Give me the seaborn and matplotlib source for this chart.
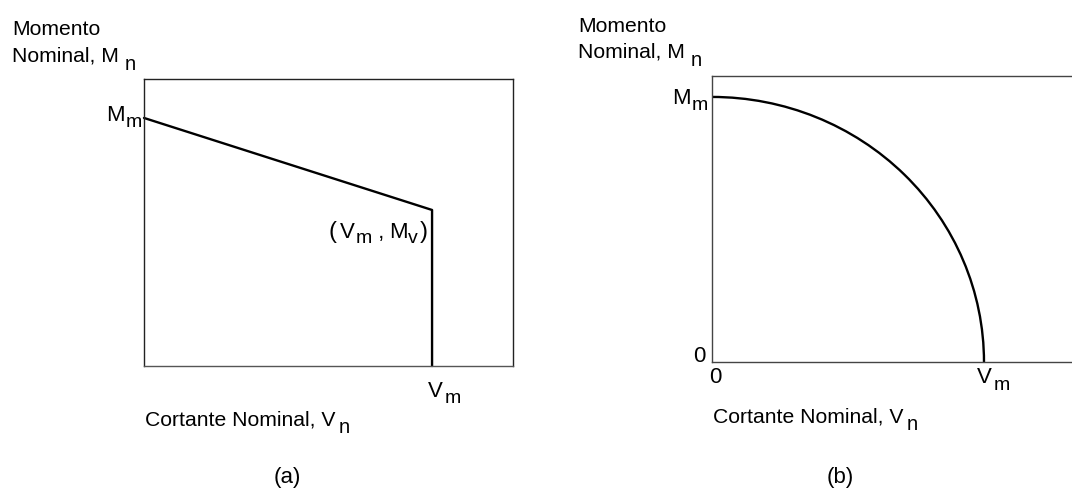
import matplotlib
matplotlib.use("Agg")
import matplotlib.pyplot as plt
from matplotlib.patches import Arc
from matplotlib.transforms import IdentityTransform
import pandas as pd
import seaborn as sns

# Interaction diagram values (normalised to the nominal capacities)
Vm = 1.0          # nominal shear capacity
Mm = 1.0          # nominal moment capacity
Mv = 0.629        # moment reached together with Vm in the linear model

# Panel (a): linear interaction then vertical cutoff at Vm
lin_V = [0.0, Vm, Vm]
lin_M = [Mm, Mv, 0.0]

# Axis extents of each panel
xlim_a = (0.0, 1.281)
ylim_a = (0.0, 1.157)
xlim_b = (0.0, 1.353)
ylim_b = (0.0, 1.079)

sns.set_style("white")
plt.rcParams["font.family"] = ["Liberation Sans", "DejaVu Sans"]
plt.rcParams["text.color"] = "black"

W, H = 1072, 489
fig = plt.figure(figsize=(W / 100, H / 100), dpi=100)
renderer = fig.canvas.get_renderer()
PIX = IdentityTransform()

BIG, BIG_SUB = 15.2, 14.5  # axis titles
TICK, TICK_SUB = 16, 14    # value labels on the axes


def px_axes(l, t, r, b):
    return fig.add_axes([l / W, 1 - b / H, (r - l) / W, (b - t) / H])


def runs(x, y_top, parts, ha="left"):
    """Write a row of text runs on one baseline; a run is (text, size, drop, gap)."""
    y = H - y_top
    placed = []
    cx = x
    for s, size, drop, gap in parts:
        cx += gap
        t = fig.text(cx, y - drop, s, fontsize=size, transform=PIX,
                     ha="left", va="baseline", color="black")
        placed.append(t)
        cx += t.get_window_extent(renderer).width
    shift = {"left": 0.0, "right": -(cx - x), "center": -(cx - x) / 2}[ha]
    for t in placed:
        px, py = t.get_position()
        t.set_position((px + shift, py))


def label(x, y_top, main, sub, size=BIG, sub_size=BIG_SUB, drop=7, gap=5, ha="left"):
    parts = [(main, size, 0, 0)]
    if sub:
        parts.append((sub, sub_size, drop, gap))
    runs(x, y_top, parts, ha)


def style_box(ax, color):
    ax.set_xticks([])
    ax.set_yticks([])
    ax.set_xlabel("")
    ax.set_ylabel("")
    for sp in ax.spines.values():
        sp.set_visible(True)
        sp.set_color(color)
        sp.set_linewidth(1.0)


def to_px(ax, x, y):
    dx, dy = ax.transData.transform((x, y))
    return dx, H - dy


# ---- panel (a)
ax1 = px_axes(144, 80, 513, 367)
df_a = pd.DataFrame({"V": lin_V, "M": lin_M})
sns.lineplot(data=df_a, x="V", y="M", sort=False, estimator=None, errorbar=None,
             color="black", linewidth=1.7, ax=ax1, clip_on=False)
ax1.set_xlim(*xlim_a)
ax1.set_ylim(*ylim_a)
style_box(ax1, "#222222")
ax1.spines["bottom"].set_color("#555555")

px, py = to_px(ax1, 0.0, Mm)
label(px - 2, py + 2, "M", "m", TICK, TICK_SUB, drop=6, gap=1, ha="right")
px, py = to_px(ax1, Vm, 0.0)
label(px - 4, py + 30, "V", "m", TICK, TICK_SUB, drop=6, gap=2)
px, py = to_px(ax1, Vm, Mv)
runs(px - 4, py + 27, [("(", 17, 0, 0), ("V", 16, 0, 4), ("m", 14, 5, 1),
                       (" ,", 16, 0, 0), ("M", 16, 0, 4), ("v", 14, 5, 1),
                       (")", 17, 0, 2)], ha="right")

label(12, 35, "Momento", None)
label(12, 62, "Nominal, M", "n", drop=8, gap=6)
label(145, 426, "Cortante Nominal, V", "n", drop=7, gap=3)
label(287, 483, "(a)", None, size=16, ha="center")

# ---- panel (b)
ax2 = px_axes(712, 77, 1080, 363)
ax2.set_xlim(*xlim_b)
ax2.set_ylim(*ylim_b)
ax2.add_patch(Arc((0.0, 0.0), 2 * Vm, 2 * Mm, theta1=0, theta2=90,
                  color="black", linewidth=1.7))
style_box(ax2, "#444444")

px, py = to_px(ax2, 0.0, Mm)
label(px - 4, py + 6, "M", "m", TICK, TICK_SUB, drop=6, gap=1, ha="right")
px, py = to_px(ax2, 0.0, 0.0)
label(px - 7, py - 1, "0", None, TICK, ha="right")
label(px + 3, py + 20, "0", None, TICK, ha="center")
px, py = to_px(ax2, Vm, 0.0)
label(px - 7, py + 20, "V", "m", TICK, TICK_SUB, drop=7, gap=2)

label(578, 32, "Momento", None)
label(578, 58, "Nominal, M", "n", drop=8, gap=6)
label(713, 423, "Cortante Nominal, V", "n", drop=7, gap=3)
label(840, 483, "(b)", None, size=16, ha="center")

fig.savefig("out.png", dpi=100, facecolor="white")
